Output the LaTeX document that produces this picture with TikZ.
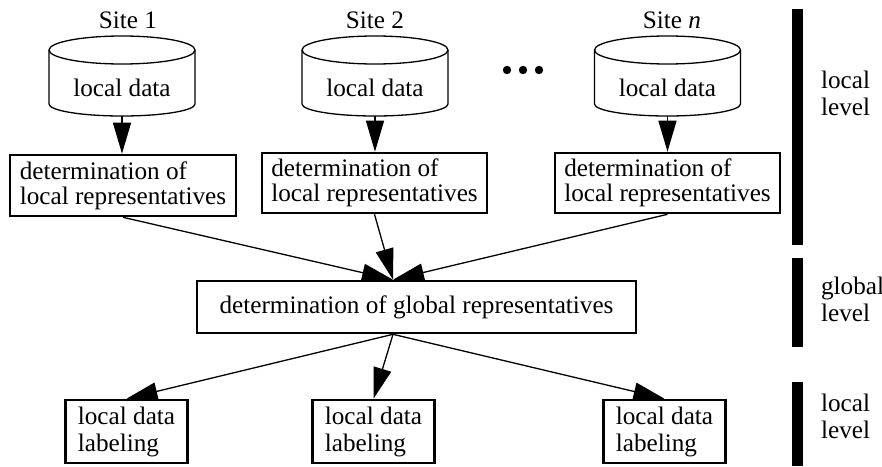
\documentclass[tikz,border=0pt]{standalone}
\usepackage{fontspec}
\setmainfont{Liberation Serif}
\usetikzlibrary{arrows.meta,calc}
\tikzset{
  cylline/.style={line width=0.65pt},
  boxnode/.style={draw,line width=1.3pt,align=left,inner sep=0pt,font=\fontsize{12.6}{12.5}\selectfont},
  conn/.style={line width=0.65pt,-{Triangle[length=15.5pt,width=9pt]}},
  lvlbar/.style={fill=black},
  lvltext/.style={anchor=west,align=left,font=\fontsize{12.6}{13.5}\selectfont},
  sitetext/.style={font=\fontsize{12.6}{13}\selectfont},
}
\newcommand\mycyl[2]{%
  \draw[cylline] ({#2-73},50) -- ({#2-73},104)
     arc[start angle=180,end angle=360,x radius=36.5pt,y radius=6pt] -- ({#2+73},50);
  \draw[cylline] (#2,50) ellipse[x radius=36.5pt,y radius=7pt];
  \node[sitetext,anchor=base] (#1) at (#2,96) {local data};
  \coordinate (#1b) at (#2,116);
}
\begin{document}
\begin{tikzpicture}[x=0.5pt,y=-0.5pt]
\useasboundingbox (0,0) rectangle (882,466);
% site labels
\node[sitetext] (s1) at (128,20) {Site 1};
\node[sitetext] (s2) at (375,20) {Site 2};
\node[sitetext] (sn) at (672,20) {Site \textit{n}};
% cylinders
\mycyl{c1}{122}
\mycyl{c2}{375}
\mycyl{cn}{667.5}
% dots
\fill (507,70) circle[radius=2.1pt];
\fill (523,70) circle[radius=2.1pt];
\fill (539,70) circle[radius=2.1pt];
% local boxes
\node[boxnode,minimum width=113pt,minimum height=30.5pt] (b1) at (123,185.5) {determination of\\local representatives};
\node[boxnode,minimum width=112.5pt,minimum height=30pt] (b2) at (374.5,183) {determination of\\local representatives};
\node[boxnode,minimum width=112.5pt,minimum height=30pt] (bn) at (667.5,183) {determination of\\local representatives};
% global box
\node[boxnode,align=center,minimum width=219.5pt,minimum height=26pt] (g) at (416.5,307) {determination of global representatives};
\coordinate (gin) at ($(g.north)+(-23.5,0)$);
\coordinate (gout) at ($(g.south)+(-23.5,0)$);
% bottom boxes
\node[boxnode,font=\fontsize{12.6}{13.5}\selectfont,minimum width=61pt,minimum height=31.5pt] (l1) at (126.5,431.5) {local data\\labeling};
\node[boxnode,font=\fontsize{12.6}{13.5}\selectfont,minimum width=61pt,minimum height=31.5pt] (l2) at (373.5,431.5) {local data\\labeling};
\node[boxnode,font=\fontsize{12.6}{13.5}\selectfont,minimum width=61pt,minimum height=31.5pt] (l3) at (664.5,431.5) {local data\\labeling};
% arrows
\draw[conn] (c1b) -- (c1b |- b1.north);
\draw[conn] (c2b) -- (c2b |- b2.north);
\draw[conn] (cnb) -- (cnb |- bn.north);
\draw[conn] (b1.south) -- (gin);
\draw[conn] (b2.south) -- (gin);
\draw[conn] (bn.south) -- (gin);
\draw[conn] (gout) -- (l1.north);
\draw[conn] (gout) -- (l2.north);
\draw[conn] (gout) -- (l3.north);
% level bars
\fill[lvlbar] (792,9) rectangle (803,245);
\fill[lvlbar] (792,258) rectangle (803,347);
\fill[lvlbar] (792,382) rectangle (803,466);
\node[lvltext] (t1) at (814,93.5) {local\\level};
\node[lvltext] (t2) at (814,299) {global\\level};
\node[lvltext] (t3) at (814,416.5) {local\\level};
\end{tikzpicture}
\end{document}
